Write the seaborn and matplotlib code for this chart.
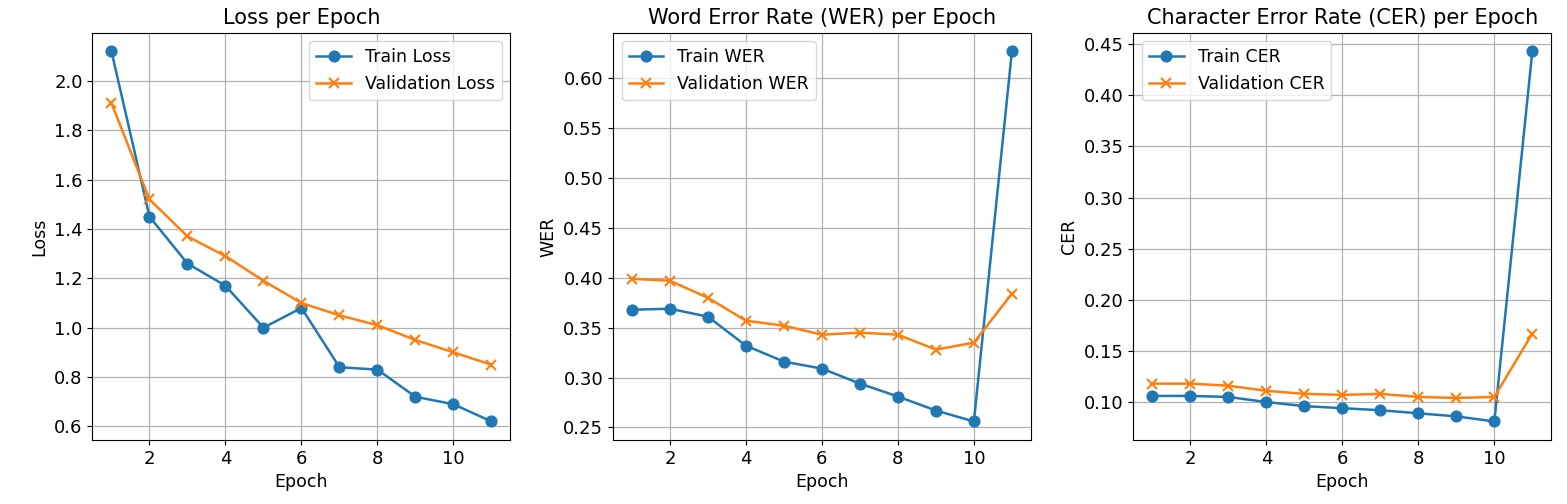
import matplotlib
matplotlib.use("Agg")
from matplotlib import pyplot as plt
import seaborn as sns

epochs = [1, 2, 3, 4, 5, 6, 7, 8, 9, 10, 11]

train_loss = [2.12, 1.45, 1.26, 1.17, 1.00, 1.08, 0.84, 0.83, 0.72, 0.69, 0.62]
val_loss = [1.91, 1.52, 1.37, 1.29, 1.19, 1.10, 1.05, 1.01, 0.95, 0.90, 0.85]

train_wer = [0.368, 0.369, 0.361, 0.332, 0.316, 0.309, 0.294, 0.281, 0.267, 0.256, 0.627]
val_wer = [0.399, 0.397, 0.380, 0.357, 0.352, 0.343, 0.345, 0.343, 0.328, 0.335, 0.384]

train_cer = [0.106, 0.106, 0.105, 0.100, 0.096, 0.094, 0.092, 0.089, 0.086, 0.081, 0.443]
val_cer = [0.118, 0.118, 0.116, 0.111, 0.108, 0.107, 0.108, 0.105, 0.104, 0.105, 0.167]

panels = [
    ('Loss per Epoch', 'Loss', train_loss, val_loss, 'Train Loss', 'Validation Loss', 'upper right'),
    ('Word Error Rate (WER) per Epoch', 'WER', train_wer, val_wer, 'Train WER', 'Validation WER', 'upper left'),
    ('Character Error Rate (CER) per Epoch', 'CER', train_cer, val_cer, 'Train CER', 'Validation CER', 'upper left'),
]

plt.rcParams['font.size'] = 12.5
blue = '#1f77b4'
orange = '#ff7f0e'

fig, axes = plt.subplots(1, 3, figsize=(15.67, 5.04), dpi=100)

for ax, (title, ylab, tr, va, tr_lab, va_lab, loc) in zip(axes, panels):
    sns.lineplot(x=epochs, y=tr, marker='o', color=blue, label=tr_lab, ax=ax,
                 markersize=8, markeredgecolor=blue, linewidth=1.8)
    sns.lineplot(x=epochs, y=va, marker='x', color=orange, label=va_lab, ax=ax,
                 markersize=7, markeredgecolor=orange, markeredgewidth=1.5, linewidth=1.8)
    ax.set_title(title, fontsize=15)
    ax.set_xlabel('Epoch', fontsize=12.5)
    ax.set_ylabel(ylab, fontsize=12.5)
    ax.set_xticks([2, 4, 6, 8, 10])
    ax.tick_params(labelsize=13)
    ax.grid(True, color='#b0b0b0', linewidth=0.9)
    ax.legend(loc=loc, fontsize=12.5)

plt.subplots_adjust(left=0.059, right=0.99, top=0.935, bottom=0.127, wspace=0.245)
plt.savefig('out.png')
